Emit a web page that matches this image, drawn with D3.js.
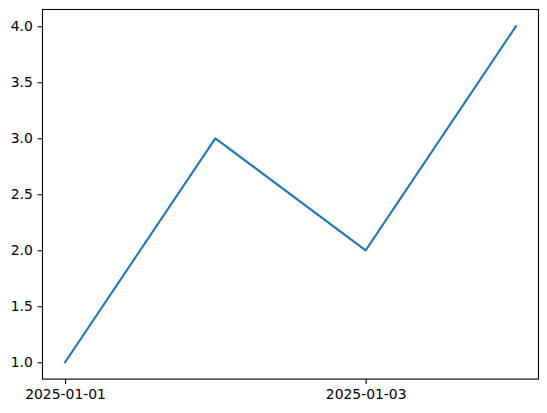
<!DOCTYPE html>
<html>
<head>
<meta charset="utf-8">
<script src="https://cdn.jsdelivr.net/npm/d3@7"></script>
<style>
  html, body { margin: 0; padding: 0; background: #fff; }
  svg { display: block; }
  .tick text { font-family: "DejaVu Sans", sans-serif; font-size: 13.9px; fill: #000; }
</style>
</head>
<body>
<svg id="chart"></svg>
<script>
  const dates = ['2025-01-01', '2025-01-02', '2025-01-03', '2025-01-04'];
  const values = [1, 3, 2, 4];
  const xTickLabels = ['2025-01-01', '2025-01-03'];
  const yTicks = [1.0, 1.5, 2.0, 2.5, 3.0, 3.5, 4.0];

  const width = 547;
  const height = 413;
  const plot = { left: 42.5, top: 9.5, width: 496, height: 369.6 };

  const svg = d3.select('#chart').attr('width', width).attr('height', height);

  const parse = d3.utcParse('%Y-%m-%d');
  const data = dates.map((d, i) => ({ date: parse(d), value: values[i] }));

  const day = 24 * 3600 * 1000;
  const [xMin, xMax] = d3.extent(data, (d) => +d.date);
  const xPad = (xMax - xMin) * 0.05;
  const x = d3
    .scaleUtc()
    .domain([new Date(xMin - xPad), new Date(xMax + xPad)])
    .range([plot.left, plot.left + plot.width]);

  const [yMin, yMax] = d3.extent(values);
  const yPad = (yMax - yMin) * 0.05;
  const y = d3
    .scaleLinear()
    .domain([yMin - yPad, yMax + yPad])
    .range([plot.top + plot.height, plot.top]);

  const tickLen = 4.86;
  const tickPad = 4.86;

  const xAxis = svg
    .append('g')
    .attr('transform', `translate(0,${plot.top + plot.height})`)
    .call(
      d3
        .axisBottom(x)
        .tickValues(xTickLabels.map(parse))
        .tickFormat(d3.utcFormat('%Y-%m-%d'))
        .tickSize(tickLen)
        .tickPadding(tickPad)
    );

  const yAxis = svg
    .append('g')
    .attr('transform', `translate(${plot.left},0)`)
    .call(
      d3
        .axisLeft(y)
        .tickValues(yTicks)
        .tickFormat(d3.format('.1f'))
        .tickSize(tickLen)
        .tickPadding(tickPad)
    );

  [xAxis, yAxis].forEach((g) => {
    g.select('.domain').remove();
    g.selectAll('.tick line').attr('stroke', '#000').attr('stroke-width', 1.1);
  });

  const line = d3
    .line()
    .x((d) => x(d.date))
    .y((d) => y(d.value));

  svg
    .append('path')
    .datum(data)
    .attr('d', line)
    .attr('fill', 'none')
    .attr('stroke', '#1f77b4')
    .attr('stroke-width', 2.08)
    .attr('stroke-linecap', 'square')
    .attr('stroke-linejoin', 'round');

  // axes frame
  svg
    .append('rect')
    .attr('x', plot.left)
    .attr('y', plot.top)
    .attr('width', plot.width)
    .attr('height', plot.height)
    .attr('fill', 'none')
    .attr('stroke', '#000')
    .attr('stroke-width', 1.1);
</script>
</body>
</html>
